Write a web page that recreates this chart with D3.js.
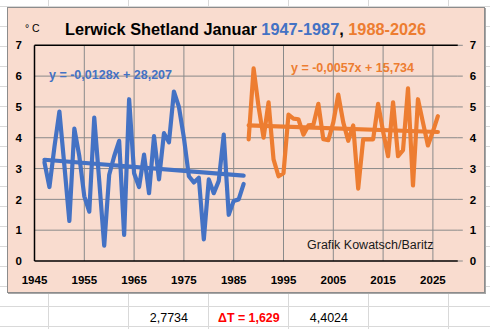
<!DOCTYPE html>
<html><head><meta charset="utf-8">
<script src="https://cdn.jsdelivr.net/npm/d3@7/dist/d3.min.js"></script>
<style>body{margin:0;background:#fff}svg{display:block}text{font-family:"Liberation Sans",Arial,sans-serif}</style>
</head><body>
<script>
// ---- data ----
const startA = 1947, endA = 1987;
const startB = 1988, endB = 2026;
const valuesA = [3.2,2.4,3.7,4.85,3.1,1.3,4.3,3.4,2.1,1.6,
                 4.65,2.6,0.5,2.8,3.4,3.9,0.85,5.25,2.85,2.4,
                 3.45,2.2,4.05,2.65,4.15,3.85,5.5,5.0,4.0,2.75,
                 2.55,2.7,0.7,2.65,2.2,2.6,4.1,1.5,1.95,2.0,2.5];
const valuesB = [3.95,6.25,5.0,4.0,5.15,3.3,2.75,2.85,4.75,4.62,
                 4.6,4.1,4.4,4.42,5.1,3.95,3.92,4.5,5.4,4.5,
                 3.9,4.4,2.35,3.95,3.95,3.95,5.1,4.2,3.4,5.15,
                 3.4,3.6,5.6,2.45,5.25,4.5,3.75,4.2,4.7];
const trendA = [-0.0128, 28.207];
const trendB = [-0.0057, 15.734];
const xTicks = [1945,1955,1965,1975,1985,1995,2005,2015,2025];
const yTicks = [0,1,2,3,4,5,6,7];
const bottomNumbers = ["2,7734", "ΔT = 1,629", "4,4024"];
const title = ["Lerwick Shetland Januar ", "1947-1987", ", ", "1988-2026"];

const yearsA = d3.range(startA, endA + 1);
const yearsB = d3.range(startB, endB + 1);
const blue = "#4472C4", orange = "#ED7D31";

const W = 490, H = 329;
const svg = d3.select("body").append("svg").attr("width", W).attr("height", H);

// spreadsheet grid
const sheet = svg.append("g").attr("stroke", "#d9d9d9").attr("stroke-width", 1);
[48,128,208,288,368,448].forEach(x => sheet.append("line").attr("x1", x+0.5).attr("x2", x+0.5).attr("y1", 0).attr("y2", H));
d3.range(6, H, 20).forEach(y => sheet.append("line").attr("x1", 0).attr("x2", W).attr("y1", y+0.5).attr("y2", y+0.5));

// chart area
svg.append("rect").attr("x", 8).attr("y", 8).attr("width", 478).attr("height", 286).attr("fill", "#a6a6a6");
svg.append("rect").attr("x", 7.5).attr("y", 7.5).attr("width", 477).attr("height", 285)
  .attr("fill", "#F9DCCF").attr("stroke", "#8c8c8c").attr("stroke-width", 1);

const x = d3.scaleLinear().domain([1945, 2030]).range([34.5, 457.8]);
const y = d3.scaleLinear().domain([0, 7]).range([261, 45.3]);

// gridlines
const grid = svg.append("g").attr("stroke", "#8a8a8a").attr("stroke-width", 1);
xTicks.slice(1).forEach(t => grid.append("line").attr("x1", x(t)).attr("x2", x(t)).attr("y1", y(7)).attr("y2", y(0)));
yTicks.slice(1, -1).forEach(t => grid.append("line").attr("x1", x(1945)).attr("x2", x(2030)).attr("y1", y(t)).attr("y2", y(t)));
// right ticks
yTicks.forEach(t => grid.append("line").attr("x1", x(2030)).attr("x2", x(2030)+5).attr("y1", y(t)).attr("y2", y(t)));

// axes (black)
const ax = svg.append("g").attr("stroke", "#000").attr("stroke-width", 1.5);
ax.append("line").attr("x1", x(1945)).attr("x2", x(2030)).attr("y1", y(0)).attr("y2", y(0));
ax.append("line").attr("x1", x(1945)).attr("x2", x(2030)).attr("y1", y(7)).attr("y2", y(7));
ax.append("line").attr("x1", x(1945)).attr("x2", x(1945)).attr("y1", y(7)).attr("y2", y(0));

// axis labels
const lab = svg.append("g").attr("font-size", 11.5).attr("font-weight", "bold").attr("fill", "#000");
yTicks.forEach(t => {
  lab.append("text").attr("x", 22).attr("y", y(t)).attr("dy", "0.36em").attr("text-anchor", "end").text(t);
  lab.append("text").attr("x", 473).attr("y", y(t)).attr("dy", "0.36em").attr("text-anchor", "middle").text(t);
});
xTicks.forEach(t => lab.append("text").attr("x", x(t)).attr("y", 283.5).attr("text-anchor", "middle").text(t));

// series
const line = d3.line().x(d => x(d[0])).y(d => y(d[1]));
function drawSeries(years, vals, color) {
  svg.append("path").datum(years.map((yr, i) => [yr, vals[i]])).attr("d", line)
    .attr("fill", "none").attr("stroke", color).attr("stroke-width", 4.2)
    .attr("stroke-linejoin", "round").attr("stroke-linecap", "round");
}
function drawTrend(y0, y1, tr, color) {
  const f = yr => tr[0] * yr + tr[1];
  svg.append("path").datum([[y0, f(y0)], [y1, f(y1)]]).attr("d", line)
    .attr("fill", "none").attr("stroke", color).attr("stroke-width", 4.2).attr("stroke-linecap", "round");
}
drawSeries(yearsA, valuesA, blue);
drawSeries(yearsB, valuesB, orange);
drawTrend(startA, endA, trendA, blue);
drawTrend(startB, endB, trendB, orange);

// equations
svg.append("text").attr("x", 49).attr("y", 78.5).attr("font-size", 12.5).attr("font-weight", "bold")
  .attr("fill", blue).text("y = -0,0128x + 28,207");
svg.append("text").attr("x", 291).attr("y", 71.5).attr("font-size", 12.5).attr("font-weight", "bold")
  .attr("fill", orange).text("y = -0,0057x + 15,734");

// title
const tt = svg.append("text").attr("x", 65).attr("y", 35).attr("font-size", 16.3).attr("font-weight", "bold");
const tcol = ["#000", blue, "#000", orange];
title.forEach((s, i) => tt.append("tspan").attr("fill", tcol[i]).text(s));
svg.append("text").attr("x", 25).attr("y", 32).attr("font-size", 10.5).attr("fill", "#000").text("° C");

// credit
svg.append("text").attr("x", 307).attr("y", 248.5).attr("font-size", 12.5).attr("fill", "#1a1a1a").text("Grafik Kowatsch/Baritz");

// bottom numbers
svg.append("text").attr("x", 188).attr("y", 322).attr("font-size", 12.5).attr("text-anchor", "end").attr("fill", "#000").text(bottomNumbers[0]);
svg.append("text").attr("x", 218).attr("y", 322).attr("font-size", 12.4).attr("font-weight", "bold").attr("fill", "#FF0000").text(bottomNumbers[1]);
svg.append("text").attr("x", 348).attr("y", 322).attr("font-size", 12.5).attr("text-anchor", "end").attr("fill", "#000").text(bottomNumbers[2]);
</script>
</body></html>
